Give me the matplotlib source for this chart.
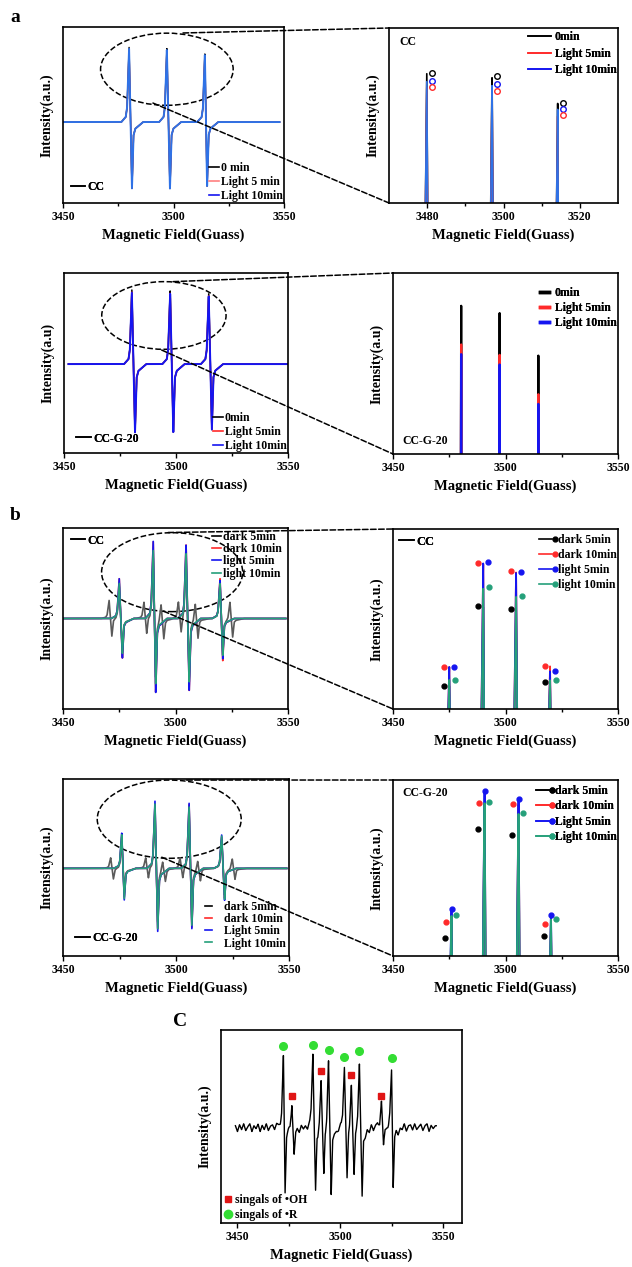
import numpy as np
import matplotlib
matplotlib.use("Agg")
import matplotlib.pyplot as plt
from matplotlib.lines import Line2D
from matplotlib.patches import Ellipse, ConnectionPatch

plt.rcParams['font.family'] = ['Liberation Serif', 'DejaVu Serif']
plt.rcParams['font.weight'] = 'bold'
plt.rcParams['axes.labelweight'] = 'bold'

W, H = 632, 1267

# ---- a: CC, 0 min / light 5 / light 10 ----
a1_up_x = [3479.9, 3497.0, 3514.2]
a1_dn_x = [3481.2, 3498.4, 3515.2]
a1_0min = [0.424, 0.421, 0.394]
a1_light5 = [0.410, 0.406, 0.381]
a1_light10 = [0.416, 0.413, 0.388]
a1_dn = [-0.38, -0.38, -0.37]

# ---- a: CC-G-20 ----
a2_up_x = [3480.3, 3497.4, 3514.6]
a2_dn_x = [3481.7, 3498.8, 3516.0]
a2_0min = [0.412, 0.410, 0.396]
a2_light5 = [0.400, 0.397, 0.384]
a2_light10 = [0.397, 0.394, 0.381]
a2_dn = [-0.381, -0.381, -0.37]

# ---- b: CC, DMPO-OH quartet + extra lines in dark 5min ----
b1_up_x = [3475.0, 3490.1, 3504.7, 3519.8]
b1_dn_x = [3476.4, 3491.2, 3506.1, 3521.0]
b1_dark5 = [0.183, 0.342, 0.335, 0.191]
b1_dark10 = [0.221, 0.428, 0.411, 0.222]
b1_light5 = [0.221, 0.430, 0.410, 0.212]
b1_light10 = [0.195, 0.379, 0.362, 0.194]
b1_dn_ratio = [1.0, 0.96, 0.97, 1.05]
b1_r_x = [3470.5, 3486.0, 3493.6, 3501.3, 3508.8, 3524.2]
b1_r_amp = [0.10, 0.09, 0.10, 0.09, 0.10, 0.10]

# ---- b: CC-G-20 ----
b2_up_x = [3476.0, 3490.7, 3505.8, 3520.2]
b2_dn_x = [3477.1, 3491.9, 3507.0, 3521.5]
b2_dark5 = [0.156, 0.322, 0.313, 0.160]
b2_dark10 = [0.181, 0.362, 0.361, 0.177]
b2_light5 = [0.200, 0.380, 0.368, 0.191]
b2_light10 = [0.191, 0.364, 0.347, 0.185]
b2_dn_ratio = [0.9, 0.95, 0.94, 0.95]
b2_r_x = [3471.1, 3486.6, 3494.1, 3501.8, 3509.6, 3524.9]
b2_r_amp = [0.06, 0.06, 0.06, 0.06, 0.06, 0.06]

# ---- c: mixed OH / R signals ----
c_up_x = [3472.3, 3476.4, 3486.6, 3490.6, 3494.2, 3501.9, 3505.3, 3509.2, 3519.9, 3524.8]
c_dn_x = [3473.1, 3477.5, 3487.9, 3491.9, 3495.5, 3503.2, 3506.6, 3510.5, 3520.9, 3525.6]
c_up = [0.376, 0.134, 0.382, 0.264, 0.359, 0.319, 0.243, 0.351, 0.134, 0.316]
c_dn = [-0.332, -0.137, -0.354, -0.25, -0.34, -0.28, -0.24, -0.358, -0.107, -0.309]
c_kind = ['R', 'OH', 'R', 'OH', 'R', 'R', 'OH', 'R', 'OH', 'R']
# baseline wiggle of trace c, one value per gauss from 3449
c_noise = [0.01, -0.02, 0.015, -0.01, 0.02, -0.015, 0.005, 0.02, -0.02, 0.01,
           -0.005, 0.018, -0.02, 0.012, -0.01, 0.02, -0.015, 0.008, 0.015, -0.01,
           0.02, 0.0, -0.01, 0.01, -0.015, 0.012, 0.02, -0.012, 0.01, 0.0,
           0.01, -0.015, 0.018, -0.005, 0.01, -0.02, 0.012, 0.015, -0.01, 0.02,
           -0.015, 0.01, 0.0, 0.005, -0.01, 0.012, -0.008, 0.01, 0.0, 0.005,
           -0.01, 0.01, 0.0, -0.005, 0.01, 0.0, 0.005, -0.01, 0.0, 0.01,
           -0.005, 0.0, 0.01, -0.02, 0.015, -0.01, 0.02, -0.015, 0.01, 0.018,
           -0.012, 0.005, 0.02, 0.0, -0.01, 0.015, -0.02, 0.01, 0.02, -0.015,
           0.012, -0.005, 0.02, -0.018, 0.01, 0.015, -0.012, 0.02, -0.01, 0.005,
           0.018, -0.015, 0.01, 0.02, -0.02, 0.012, -0.005, 0.01]

BLACK = 'black'
RED = '#ff2a2a'
BLUE_A1 = '#2f72e6'
BLUE = '#1515f0'
GRAY = '#5a5a5a'
GREEN = '#25a07a'


def spectrum(x, up_x, dn_x, up, dn):
    # derivative-like line for each peak from its read top / bottom
    y = np.zeros_like(x)
    for c, d, u, v in zip(up_x, dn_x, up, dn):
        vx = [c - 3.5, c - 1.5, c - 0.9, c, d, d + 0.7, d + 1.5, d + 5.0]
        vy = [0, 0.07 * u, 0.2 * u, u, v, 0.2 * v, 0.1 * v, 0]
        y += np.interp(x, vx, vy, left=0, right=0)
    return y


fig = plt.figure(figsize=(W / 100, H / 100), dpi=100)


def make_ax(l, t, r, b, xlim, major, minor, ylab='Intensity(a.u.)'):
    ax = fig.add_axes([l / W, 1 - b / H, (r - l) / W, (b - t) / H])
    ax.set_xlim(xlim)
    ax.set_xticks(major)
    ax.set_xticks(minor, minor=True)
    ax.set_yticks([])
    ax.tick_params(axis='x', which='major', length=3.5, width=1, pad=2.5, labelsize=8.5)
    ax.tick_params(axis='x', which='minor', length=2, width=1)
    for s in ax.spines.values():
        s.set_linewidth(1.2)
    ax.set_xlabel('Magnetic Field(Guass)', fontsize=10.5, labelpad=4)
    ax.set_ylabel(ylab, fontsize=10, labelpad=7)
    return ax


def line_legend(ax, labels, colors, loc, anchor, lw=1.2, hl=0.8, sp=0.15, fs=8.5, tp=0.2):
    hs = [Line2D([], [], color=c, lw=lw) for c in colors]
    lg = ax.legend(hs, labels, loc=loc, bbox_to_anchor=anchor, frameon=False, fontsize=fs,
                   handlelength=hl, handletextpad=tp, labelspacing=sp, borderpad=0.1,
                   borderaxespad=0)
    ax.add_artist(lg)
    return lg


class LineDot:
    def legend_artist(self, legend, orig_handle, fontsize, handlebox):
        x0, y0 = handlebox.xdescent, handlebox.ydescent
        w, h = handlebox.width, handlebox.height
        tr = handlebox.get_transform()
        col = orig_handle.get_color()
        ln = Line2D([x0, x0 + 0.72 * w], [y0 + h / 2] * 2, color=col, lw=1.2, transform=tr)
        dot = Line2D([x0 + 0.92 * w], [y0 + h / 2], marker='o', ms=3.5, color=col, ls='none', transform=tr)
        handlebox.add_artist(ln)
        handlebox.add_artist(dot)
        return ln


def dot_legend(ax, labels, colors, anchor, sp):
    hs = [Line2D([], [], color=c) for c in colors]
    lg = ax.legend(hs, labels, loc='upper right', bbox_to_anchor=anchor, frameon=False, fontsize=8.5,
                   handlelength=1.5, handletextpad=0.1, labelspacing=sp, borderpad=0.1,
                   borderaxespad=0, handler_map={Line2D: LineDot()})
    ax.add_artist(lg)


def zoom_marks(axL, axR, ell, p_top, p_low):
    axL.add_patch(Ellipse(ell[:2], ell[2], ell[3], transform=axL.transAxes, fill=False,
                          ls='--', lw=1.1, ec='black', clip_on=False))
    for pA, pB in [(p_top, (0, 1)), (p_low, (0, 0))]:
        cp = ConnectionPatch(xyA=pA, coordsA=axL.transAxes, xyB=pB, coordsB=axR.transAxes,
                             ls='--', lw=1.1, color='black')
        fig.add_artist(cp)


# ================= a, row 1 =================
ax = make_ax(63, 27, 284, 203, (3450, 3550), [3450, 3500, 3550], [3475, 3525])
x = np.linspace(3450, 3548, 3000)
for amp, col, lw in [(a1_0min, BLACK, 1.0), (a1_light5, RED, 1.0), (a1_light10, BLUE_A1, 1.4)]:
    ax.plot(x, spectrum(x, a1_up_x, a1_dn_x, amp, a1_dn), color=col, lw=lw)
ax.set_ylim(-0.46, 0.54)
line_legend(ax, ['0 min', 'Light 5 min', 'Light 10min'], [BLACK, '#ff8080', BLUE], 'lower right', (1.0, 0.0))
line_legend(ax, ['CC'], [BLACK], 'lower left', (0.03, 0.05), hl=1.2)
ax_a1 = ax

ax = make_ax(389, 28, 618, 203, (3470, 3530), [3480, 3500, 3520], [3490, 3510])
x = np.linspace(3470, 3530, 6000)
for amp, col in [(a1_0min, BLACK), (a1_light5, RED), (a1_light10, BLUE_A1)]:
    ax.plot(x, spectrum(x, a1_up_x, a1_dn_x, amp, a1_dn), color=col, lw=1.2)
for amp, col in [(a1_0min, BLACK), (a1_light10, BLUE), (a1_light5, RED)]:
    ax.plot(np.array(a1_up_x) + 1.4, amp, 'o', ms=4, mfc='none', mec=col, mew=1)
ax.set_ylim(0.293, 0.469)
line_legend(ax, ['0min', 'Light 5min', 'Light 10min'], [BLACK, RED, BLUE], 'upper right', (1.0, 0.99),
            hl=2.0, sp=0.4, fs=8.5, tp=0.3)
ax.text(0.045, 0.955, 'CC', transform=ax.transAxes, fontsize=8.5, va='top')
zoom_marks(ax_a1, ax, (0.47, 0.76, 0.60, 0.41), (0.543, 0.966), (0.407, 0.568))

# ================= a, row 2 =================
ax = make_ax(64, 273, 288, 453, (3450, 3550), [3450, 3500, 3550], [3475, 3525], 'Intensity(a.u)')
x = np.linspace(3452, 3550, 3000)
for amp, col, lw in [(a2_0min, BLACK, 1.1), (a2_light5, RED, 1.1), (a2_light10, BLUE, 1.4)]:
    ax.plot(x, spectrum(x, a2_up_x, a2_dn_x, amp, a2_dn), color=col, lw=lw)
ax.set_ylim(-0.494, 0.506)
line_legend(ax, ['0min', 'Light 5min', 'Light 10min'], [BLACK, RED, BLUE], 'lower right', (1.0, 0.0))
line_legend(ax, ['CC-G-20'], [BLACK], 'lower left', (0.05, 0.04), hl=1.2)
ax_a2 = ax

ax = make_ax(393, 273, 618, 454, (3450, 3550), [3450, 3500, 3550], [3475, 3525], 'Intensity(a.u)')
x = np.linspace(3450, 3550, 8000)
for amp, col in [(a2_0min, BLACK), (a2_light5, RED), (a2_light10, BLUE)]:
    ax.plot(x, spectrum(x, a2_up_x, a2_dn_x, amp, a2_dn), color=col, lw=1.6)
ax.set_ylim(0.364, 0.420)
line_legend(ax, ['0min', 'Light 5min', 'Light 10min'], [BLACK, RED, BLUE], 'upper right', (1.0, 0.93),
            lw=2.5, hl=0.8, sp=0.25, fs=8.5, tp=0.5)
ax.text(0.04, 0.04, 'CC-G-20', transform=ax.transAxes, fontsize=8.5, va='bottom')
zoom_marks(ax_a2, ax, (0.446, 0.764, 0.555, 0.376), (0.487, 0.952), (0.436, 0.572))

# ================= b, row 1 =================
series_b1 = [(b1_dark5, GRAY), (b1_dark10, RED), (b1_light5, BLUE), (b1_light10, GREEN)]

ax = make_ax(63, 528, 288, 709, (3450, 3550), [3450, 3500, 3550], [3475, 3525])
x = np.linspace(3450, 3549, 4000)
for amp, col in series_b1:
    y = spectrum(x, b1_up_x, b1_dn_x, amp, [-a * r for a, r in zip(amp, b1_dn_ratio)])
    if amp is b1_dark5:
        y = y + spectrum(x, b1_r_x, [v + 1.2 for v in b1_r_x], b1_r_amp, [-a for a in b1_r_amp])
    ax.plot(x, y, color=col, lw=1.2)
ax.set_ylim(-0.5, 0.5)
line_legend(ax, ['dark 5min', 'dark 10min', 'light 5min', 'light 10min'], [BLACK, RED, BLUE, GREEN],
            'upper right', (0.98, 0.99), sp=0.02)
line_legend(ax, ['CC'], [BLACK], 'upper left', (0.03, 0.97), hl=1.2)
ax_b1 = ax

ax = make_ax(393, 529, 618, 709, (3450, 3550), [3450, 3500, 3550], [3475, 3525])
x = np.linspace(3450, 3550, 8000)
for amp, col in series_b1:
    y = spectrum(x, b1_up_x, b1_dn_x, amp, [-a * r for a, r in zip(amp, b1_dn_ratio)])
    ax.plot(x, y, color=col, lw=1.3)
for (amp, col), off in zip(series_b1, [-2.4, -2.3, 2.3, 2.6]):
    ax.plot(np.array(b1_up_x) + off, amp, 'o', ms=3.5, color=BLACK if col == GRAY else col)
ax.set_ylim(0.136, 0.496)
dot_legend(ax, ['dark 5min', 'dark 10min', 'light 5min', 'light 10min'], [BLACK, RED, BLUE, GREEN],
           (1.0, 0.98), 0.25)
line_legend(ax, ['CC'], [BLACK], 'upper left', (0.02, 0.97), hl=1.2, fs=9)
zoom_marks(ax_b1, ax, (0.485, 0.756, 0.627, 0.436), (0.467, 0.975), (0.446, 0.541))

# ================= b, row 2 =================
series_b2 = [(b2_dark5, GRAY), (b2_dark10, RED), (b2_light5, BLUE), (b2_light10, GREEN)]

ax = make_ax(63, 779, 289, 956, (3450, 3550), [3450, 3500, 3550], [3475, 3525])
x = np.linspace(3450, 3549, 4000)
for amp, col in series_b2:
    y = spectrum(x, b2_up_x, b2_dn_x, amp, [-a * r for a, r in zip(amp, b2_dn_ratio)])
    if amp is b2_dark5:
        y = y + spectrum(x, b2_r_x, [v + 1.2 for v in b2_r_x], b2_r_amp, [-a for a in b2_r_amp])
    ax.plot(x, y, color=col, lw=1.2)
ax.set_ylim(-0.495, 0.505)
line_legend(ax, ['dark 5min', 'dark 10min', 'Light 5min', 'Light 10min'], [BLACK, RED, BLUE, GREEN],
            'lower right', (0.99, 0.03), sp=0.02, hl=0.6, tp=1.0)
line_legend(ax, ['CC-G-20'], [BLACK], 'lower left', (0.05, 0.06), hl=1.2)
ax_b2 = ax

ax = make_ax(393, 780, 618, 956, (3450, 3550), [3450, 3500, 3550], [3475, 3525])
x = np.linspace(3450, 3550, 8000)
for amp, col in series_b2:
    y = spectrum(x, b2_up_x, b2_dn_x, amp, [-a * r for a, r in zip(amp, b2_dn_ratio)])
    ax.plot(x, y, color=col, lw=1.4)
for (amp, col), off in zip(series_b2, [-3.0, -2.6, 0.0, 2.1]):
    ax.plot(np.array(b2_up_x) + off, amp, 'o', ms=3.5, color=BLACK if col == GRAY else col)
ax.set_ylim(0.129, 0.397)
dot_legend(ax, ['dark 5min', 'dark 10min', 'Light 5min', 'Light 10min'], [BLACK, RED, BLUE, GREEN],
           (1.0, 0.98), 0.3)
ax.text(0.04, 0.96, 'CC-G-20', transform=ax.transAxes, fontsize=8.5, va='top')
zoom_marks(ax_b2, ax, (0.47, 0.773, 0.637, 0.442), (0.547, 0.994), (0.437, 0.558))

# ================= c =================
ax = make_ax(221, 1030, 462, 1223, (3442, 3559), [3450, 3500, 3550], [3475, 3525])
x = np.linspace(3449, 3546.5, 4000)
noise_x = 3449 + np.arange(len(c_noise))
y = spectrum(x, c_up_x, c_dn_x, c_up, c_dn) + np.interp(x, noise_x, c_noise)
ax.plot(x, y, color=BLACK, lw=1.0)
for k, col, mk, dy in [('OH', '#e01515', 's', 0.03), ('R', '#33dd33', 'o', 0.045)]:
    xs = [u for u, kk in zip(c_up_x, c_kind) if kk == k]
    ys = [a + dy for a, kk in zip(c_up, c_kind) if kk == k]
    ax.plot(xs, ys, mk, ms=5.5 if mk == 'o' else 5, color=col, ls='none')
ax.set_ylim(-0.494, 0.506)
hs = [Line2D([], [], marker='s', ms=5, color='#e01515', ls='none'),
      Line2D([], [], marker='o', ms=6, color='#33dd33', ls='none')]
ax.legend(hs, ['singals of •OH', 'singals of •R'], loc='lower left', bbox_to_anchor=(0.0, 0.0),
          frameon=False, fontsize=8.5, handlelength=0.8, handletextpad=0.2, labelspacing=0.25,
          borderpad=0.2, borderaxespad=0)

fig.text(10 / W, 1 - 18 / H, 'a', fontsize=14, va='center')
fig.text(10 / W, 1 - 515 / H, 'b', fontsize=14, va='center')
fig.text(173 / W, 1 - 1022 / H, 'C', fontsize=14, va='center')

fig.savefig('out.png', dpi=100)
